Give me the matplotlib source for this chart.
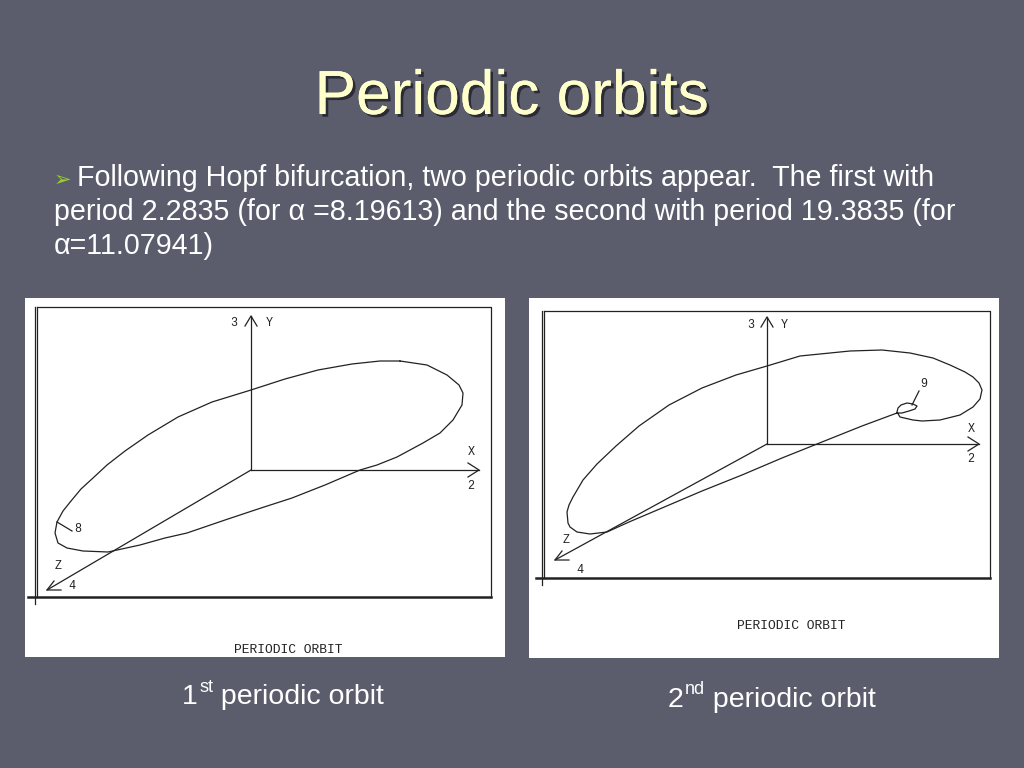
import matplotlib
matplotlib.use("Agg")
import matplotlib.pyplot as plt
import matplotlib.patheffects as pe

# slide text
title = "Periodic orbits"
body_lines = ["Following Hopf bifurcation, two periodic orbits appear.  The first with",
              "period 2.2835 (for \u03b1 =8.19613) and the second with period 19.3835 (for",
              "\u03b1=11.07941)"]
captions = [("1", "st", " periodic orbit"), ("2", "nd", " periodic orbit")]

# orbit traces (panel pixel units)
orbit1_x = [375, 402, 422, 434, 438, 437, 428, 415, 398, 372, 352, 335, 300, 267, 233, 200,
            162, 140, 115, 83, 58, 42, 33, 30, 32, 38, 46, 56, 68, 82, 100, 123, 153, 187,
            226, 260, 293, 327, 355, 375]
orbit1_y = [63, 67, 77, 87, 95, 107, 122, 135, 145, 159, 167, 172, 187, 200, 211, 222,
            235, 240, 247, 254, 253, 250, 245, 235, 224, 213, 203, 191, 180, 167, 153, 137,
            119, 104, 92, 81, 72, 66, 63, 63]
orbit2_x = [368, 333, 293, 253, 213, 173, 133, 100, 78, 61, 48, 41, 39, 38, 40, 44, 54, 68,
            87, 110, 140, 173, 207, 238, 271, 321, 353, 381, 404, 421, 436, 444, 450, 453,
            451, 444, 431, 411, 393, 384, 371, 368, 369, 372, 378, 384, 388, 386, 380, 373,
            368]
orbit2_y = [115, 128, 144, 160, 177, 193, 210, 224, 234, 236, 234, 229, 225, 214, 207, 199,
            182, 166, 148, 128, 107, 90, 77, 68, 58, 53, 52, 55, 60, 67, 74, 79, 85, 92,
            101, 109, 117, 122, 123, 122, 119, 114, 110, 107, 105, 106, 108, 111, 113, 115,
            115]

# axes geometry of each picture: origin, y tip, x tip, z tip
panels = [
    dict(box=(25, 298, 480, 359), origin=(226, 172), ytip=(226, 18), xtip=(454, 172),
         ztip=(22, 292), frame=(10, 12, 9.5, 466, 299, 3, 306),
         labels=[("3", 209, 25), ("Y", 244, 25), ("X", 446, 154), ("2", 446, 188),
                 ("Z", 33, 268), ("4", 47, 288), ("8", 53, 231)],
         marker=((32, 224), (47, 233)), title_pos=(263, 352),
         ox=orbit1_x, oy=orbit1_y),
    dict(box=(529, 298, 470, 360), origin=(238, 146), ytip=(238, 19), xtip=(450, 146),
         ztip=(26, 262), frame=(13.3, 15, 12.7, 461, 280, 6.7, 287),
         labels=[("3", 222, 27), ("Y", 255, 27), ("X", 442, 131), ("2", 442, 161),
                 ("Z", 37, 242), ("4", 51, 272), ("9", 395, 86)],
         marker=((390, 93), (383, 107)), title_pos=(262, 328),
         ox=orbit2_x, oy=orbit2_y),
]

bg_color = "#5b5d6d"
sans = ["Liberation Sans", "DejaVu Sans"]
mono = ["Liberation Mono", "DejaVu Sans Mono"]

fig = plt.figure(figsize=(10.24, 7.68), dpi=100, facecolor=bg_color)
bg = fig.add_axes([0, 0, 1, 1])
bg.set_xlim(0, 1024)
bg.set_ylim(768, 0)
bg.set_axis_off()

bg.text(512, 114, title, ha="center", va="baseline", fontsize=44.8, color="#ffffcc",
        family=sans, path_effects=[pe.withSimplePatchShadow(offset=(2, -2),
                                                             shadow_rgbFace="#1e1f26", alpha=0.8),
                                   pe.Normal()])

bg.text(54, 186, "\u27a2", ha="left", va="baseline", fontsize=15, color="#9acd32",
        family=["DejaVu Sans"])
bg.text(77, 186, body_lines[0], ha="left", va="baseline", fontsize=20.6, color="white", family=sans)
bg.text(54, 220, body_lines[1], ha="left", va="baseline", fontsize=20.6, color="white", family=sans)
bg.text(54, 254, body_lines[2], ha="left", va="baseline", fontsize=20.6, color="white", family=sans)

renderer = fig.canvas.get_renderer()
cap_pos = [(182, 704), (668, 707)]
for (num, sup, rest), (cx, cy) in zip(captions, cap_pos):
    t1 = bg.text(cx, cy, num, ha="left", va="baseline", fontsize=20.5, color="white", family=sans)
    x1 = t1.get_window_extent(renderer).x1
    t2 = bg.annotate(sup, xy=(x1, 768 - cy), xycoords="figure pixels", xytext=(1, 9),
                     textcoords="offset points", ha="left", va="baseline", fontsize=13,
                     color="white", family=sans)
    x2 = t2.get_window_extent(renderer).x1
    bg.annotate(rest, xy=(x2, 768 - cy), xycoords="figure pixels", ha="left",
                va="baseline", fontsize=20.5, color="white", family=sans)

lc = "#222222"
for p in panels:
    bx, by, bw, bh = p["box"]
    ax = fig.add_axes([bx / 1024, (768 - by - bh) / 768, bw / 1024, bh / 768])
    ax.set_facecolor("white")
    ax.set_xlim(0, bw)
    ax.set_ylim(bh, 0)
    ax.set_xticks([])
    ax.set_yticks([])
    for s in ax.spines.values():
        s.set_visible(False)

    xl1, xl2, ytop, xr, ybot, xbl, ytick = p["frame"]
    ax.plot([xl2, xr, xr], [ytop, ytop, ybot], color=lc, lw=0.9)
    ax.plot([xbl, xr], [ybot, ybot], color=lc, lw=1.8)
    ax.plot([xl1, xl1], [ytop, ytick], color=lc, lw=0.9)
    ax.plot([xl2, xl2], [ytop, ybot], color=lc, lw=0.9)

    ox, oy = p["origin"]
    for tx, ty in (p["ytip"], p["xtip"], p["ztip"]):
        ax.plot([ox, tx], [oy, ty], color=lc, lw=0.9)
    yx, yy = p["ytip"]
    ax.plot([yx - 6, yx, yx + 6], [yy + 10, yy, yy + 10], color=lc, lw=0.9)
    xx, xy = p["xtip"]
    ax.plot([xx - 11, xx, xx - 11], [xy - 7, xy, xy + 7], color=lc, lw=0.9)
    zx, zy = p["ztip"]
    ax.plot([zx + 7, zx, zx + 14], [zy - 9, zy, zy], color=lc, lw=0.9)

    ax.plot(p["ox"], p["oy"], color=lc, lw=0.9, solid_joinstyle="round",
            solid_capstyle="round")
    (m1x, m1y), (m2x, m2y) = p["marker"]
    ax.plot([m1x, m2x], [m1y, m2y], color=lc, lw=0.9)

    for s, lx, ly in p["labels"]:
        ax.text(lx, ly, s, ha="center", va="center", fontsize=8.5, color=lc, family=mono)
    tx, ty = p["title_pos"]
    ax.text(tx, ty, "PERIODIC ORBIT", ha="center", va="center", fontsize=9.4, color=lc,
            family=mono)

fig.savefig("out.png", dpi=100, facecolor=bg_color)
